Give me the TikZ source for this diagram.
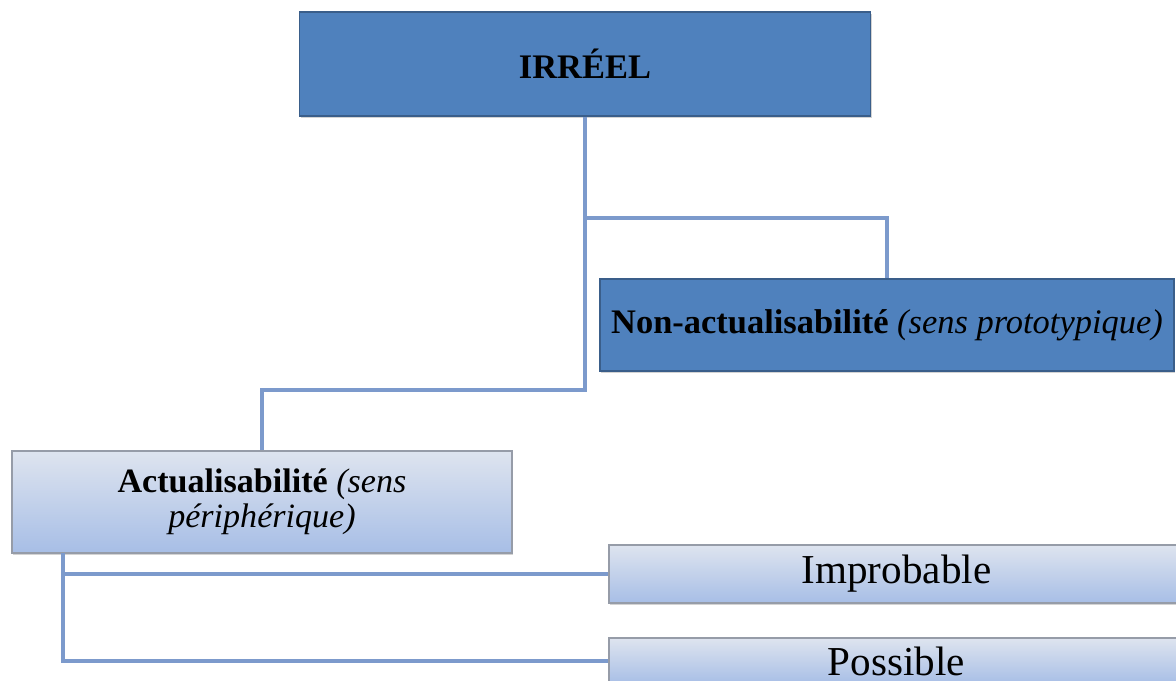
\documentclass[tikz,border=0pt]{standalone}
\usepackage{fontspec}
\setmainfont{Liberation Serif}
\usepackage{tikz}
\tikzset{>=latex}
\usetikzlibrary{calc,shadows}
\definecolor{darkfill}{RGB}{79,129,189}
\definecolor{darkedge}{RGB}{58,94,138}
\definecolor{paletop}{RGB}{222,228,239}
\definecolor{palebot}{RGB}{167,190,230}
\definecolor{paleedge}{RGB}{150,156,168}
\definecolor{linkcol}{RGB}{124,154,204}

\begin{document}
\begin{tikzpicture}[x=0.02cm,y=-0.02cm,
    darkbox/.style={draw=darkedge,fill=darkfill,line width=0.6pt,inner sep=0pt,
        drop shadow={shadow xshift=0.6pt,shadow yshift=-1.4pt,opacity=0.35}},
    palebox/.style={draw=paleedge,top color=paletop,bottom color=palebot,line width=0.6pt,inner sep=0pt,
        drop shadow={shadow xshift=0.6pt,shadow yshift=-1.4pt,opacity=0.35}},
    link/.style={draw=linkcol,line width=1.8pt}]
    \useasboundingbox (0,0) rectangle (1176,680);
    \node[darkbox,minimum width=571*0.02cm,minimum height=104*0.02cm,font=\bfseries\fontsize{19.6}{20}\selectfont] (irreel) at (585,64) {IRRÉEL};
    \node[darkbox,minimum width=574*0.02cm,minimum height=92*0.02cm,font=\fontsize{19.6}{20}\selectfont] (nonact) at (887,325) {\textbf{Non-actualisabilité} \textit{(sens prototypique)}};
    \node[palebox,minimum width=500*0.02cm,minimum height=102*0.02cm,align=center,font=\fontsize{19.4}{20}\selectfont] (actu) at (262,502) {\textbf{Actualisabilité} \textit{(sens}\\\textit{périphérique)}};
    \node[palebox,minimum width=575*0.02cm,minimum height=58*0.02cm,font=\fontsize{23.4}{24}\selectfont] (improb) at (896.5,574) {Improbable};
    \node[palebox,minimum width=575*0.02cm,minimum height=46*0.02cm,font=\fontsize{23.4}{24}\selectfont] (poss) at (896.5,661) {Possible};
    \coordinate (split) at (585,218);
    \coordinate (bend) at (585,390);
    \coordinate (foot) at (63,553);
    \draw[link] (irreel.south) -- (split) -| (nonact.north);
    \draw[link] (split) -- (bend) -| (actu.north);
    \draw[link] (foot) |- (improb.west);
    \draw[link] (foot) |- (poss.west);
\end{tikzpicture}
\end{document}
